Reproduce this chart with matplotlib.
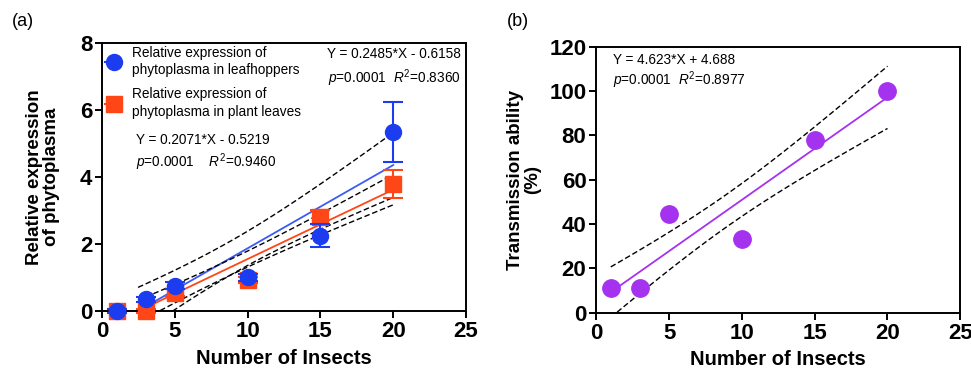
import numpy as np
import matplotlib
matplotlib.use("Agg")
from matplotlib import pyplot as plt
from matplotlib.lines import Line2D

plt.rcParams['font.family'] = ['Liberation Sans', 'DejaVu Sans']
plt.rcParams['mathtext.fontset'] = 'custom'
plt.rcParams['mathtext.rm'] = 'Liberation Sans'
plt.rcParams['mathtext.it'] = 'Liberation Sans:italic'

# data
insects = [1, 3, 5, 10, 15, 20]

leaf_expr = [0.0, 0.35, 0.75, 1.0, 2.25, 5.35]
leaf_err = [0.05, 0.08, 0.1, 0.1, 0.35, 0.9]
leaf_fit = (0.2485, -0.6158)

plant_expr = [0.0, 0.0, 0.55, 0.92, 2.8, 3.8]
plant_err = [0.05, 0.05, 0.1, 0.1, 0.2, 0.42]
plant_fit = (0.2071, -0.5219)

transmission = [11.1, 11.1, 44.4, 33.3, 77.8, 100.0]
trans_fit = (4.623, 4.688)

# half-width scale of the dashed confidence bands (as seen in the figure)
leaf_band = 1.24
plant_band = 0.58
trans_band = 18.0

BLUE = '#1c3cf0'
BLUE_LINE = '#3b5bf6'
ORANGE = '#ff4616'
PURPLE = '#a432ee'
FS = 9.8


def band(xs, x, k):
    x = np.asarray(x, float)
    xm = x.mean()
    sxx = ((x - xm) ** 2).sum()
    return k * np.sqrt(1.0 / len(x) + (xs - xm) ** 2 / sxx)


def draw_fit(ax, x0, x1, fit, k, color, lw=1.3):
    xs = np.linspace(x0, x1, 100)
    y = fit[0] * xs + fit[1]
    w = band(xs, insects, k)
    ax.plot(xs, y, color=color, lw=lw, zorder=2)
    ax.plot(xs, y + w, ls=(0, (4, 2)), color='black', lw=1.0, zorder=2)
    ax.plot(xs, y - w, ls=(0, (4, 2)), color='black', lw=1.0, zorder=2)


def style(ax, ylabel, pad):
    for s in ax.spines.values():
        s.set_linewidth(1.4)
    ax.tick_params(width=1.4, length=5, labelsize=16, pad=2)
    for t in ax.get_xticklabels() + ax.get_yticklabels():
        t.set_fontweight('bold')
    ax.set_xlim(0, 25)
    ax.set_xticks([0, 5, 10, 15, 20, 25])
    ax.set_xlabel('Number of Insects', fontsize=14.5, fontweight='bold', labelpad=5)
    ax.set_ylabel(ylabel, fontsize=13.5, fontweight='bold', labelpad=pad, linespacing=1.0)


fig = plt.figure(figsize=(9.71, 3.76), dpi=100)
ax1 = fig.add_axes([0.105, 0.173, 0.375, 0.713])
ax2 = fig.add_axes([0.614, 0.168, 0.375, 0.708])

# panel (a)
x_start = -leaf_fit[1] / leaf_fit[0]
draw_fit(ax1, x_start, 20, leaf_fit, leaf_band, BLUE_LINE)
draw_fit(ax1, x_start, 20, plant_fit, plant_band, ORANGE)
ax1.errorbar(insects, plant_expr, yerr=plant_err, fmt='s', ms=11, color=ORANGE,
             ecolor=ORANGE, elinewidth=1.5, capsize=7, capthick=1.5, zorder=3, clip_on=False)
ax1.errorbar(insects, leaf_expr, yerr=leaf_err, fmt='o', ms=11.5, color=BLUE,
             ecolor=BLUE, elinewidth=1.5, capsize=7, capthick=1.5, zorder=4, clip_on=False)
ax1.set_ylim(0, 8)
ax1.set_yticks([0, 2, 4, 6, 8])
style(ax1, 'Relative expression\nof phytoplasma', 14)

handles = [Line2D([], [], color=BLUE, marker='o', ms=11.5, lw=1.5),
           Line2D([], [], color=ORANGE, marker='s', ms=11, lw=1.5)]
labels = ['Relative expression of\nphytoplasma in leafhoppers',
          'Relative expression of\nphytoplasma in plant leaves']
leg = ax1.legend(handles, labels, loc='upper left', frameon=False, fontsize=FS,
                 handlelength=1.3, handletextpad=0.7, borderaxespad=0.0,
                 labelspacing=0.7, borderpad=0.2)
for t in leg.get_texts():
    t.set_linespacing(1.35)

ax1.text(0.985, 0.985, 'Y = 0.2485*X - 0.6158', transform=ax1.transAxes,
         ha='right', va='top', fontsize=FS)
ax1.text(0.985, 0.91, r'$\mathit{p}$=0.0001  $\mathit{R}^{2}$=0.8360', transform=ax1.transAxes,
         ha='right', va='top', fontsize=FS)
ax1.text(0.093, 0.665, 'Y = 0.2071*X - 0.5219', transform=ax1.transAxes,
         ha='left', va='top', fontsize=FS)
ax1.text(0.093, 0.595, r'$\mathit{p}$=0.0001    $\mathit{R}^{2}$=0.9460', transform=ax1.transAxes,
         ha='left', va='top', fontsize=FS)

# panel (b)
draw_fit(ax2, insects[0], insects[-1], trans_fit, trans_band, PURPLE)
ax2.plot(insects, transmission, 'o', ms=12.5, color=PURPLE, zorder=3, clip_on=False)
ax2.set_ylim(0, 120)
ax2.set_yticks([0, 20, 40, 60, 80, 100, 120])
style(ax2, 'Transmission ability\n(%)', 6)
ax2.text(0.045, 0.975, 'Y = 4.623*X + 4.688', transform=ax2.transAxes,
         ha='left', va='top', fontsize=FS)
ax2.text(0.045, 0.915, r'$\mathit{p}$=0.0001  $\mathit{R}^{2}$=0.8977', transform=ax2.transAxes,
         ha='left', va='top', fontsize=FS)

fig.text(0.012, 0.93, '(a)', fontsize=13)
fig.text(0.522, 0.93, '(b)', fontsize=13)

fig.savefig('out.png', dpi=100)
